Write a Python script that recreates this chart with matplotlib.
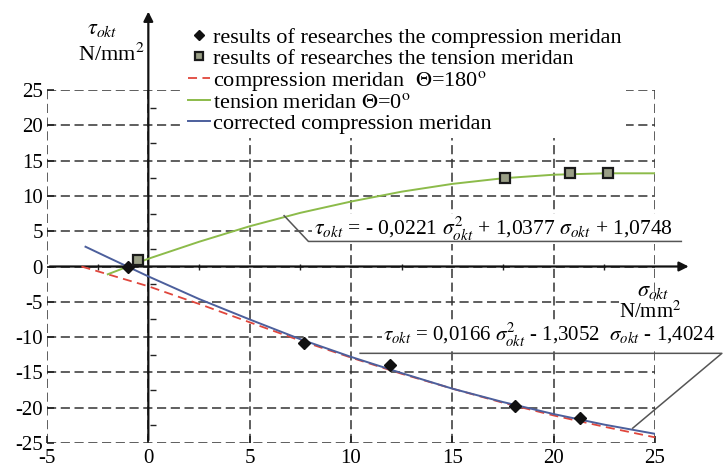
import matplotlib
matplotlib.use("Agg")
import matplotlib.pyplot as plt
import numpy as np

plt.rcParams['font.family'] = ['Liberation Serif', 'DejaVu Serif']
plt.rcParams['mathtext.fontset'] = 'stix'

# measured points
comp_x = [-1.0, 7.7, 11.9, 18.1, 21.3]
comp_y = [0.0, -10.8, -13.9, -19.8, -21.4]
tens_x = [-0.5, 17.6, 20.8, 22.7]
tens_y = [0.9, 12.6, 13.2, 13.3]

# curves
red_x = [-3.3, -2.0, 0.0, 2.5, 5.0, 7.5, 10.0, 12.5, 15.0, 17.5, 20.0, 22.5, 25.0]
red_y = [0.0, -1.1, -2.8, -5.3, -7.9, -10.5, -12.9, -15.2, -17.3, -19.3, -21.1, -22.7, -24.2]
green_x = [-2.0, 0.0, 2.5, 5.0, 7.5, 10.0, 12.5, 15.0, 17.5, 20.0, 22.5, 25.0]
green_y = [-1.1, 1.1, 3.5, 5.7, 7.6, 9.2, 10.6, 11.7, 12.5, 13.0, 13.2, 13.2]
blue_x = [-3.1, -2.0, 0.0, 2.5, 5.0, 7.5, 10.0, 12.5, 15.0, 17.5, 20.0, 22.5, 25.0]
blue_y = [2.8, 1.3, -1.4, -4.6, -7.5, -10.3, -12.8, -15.1, -17.3, -19.2, -20.9, -22.4, -23.7]

xticks = [-5, 0, 5, 10, 15, 20, 25]
yticks = [-25, -20, -15, -10, -5, 0, 5, 10, 15, 20, 25]

labels = ['results of researches the compression meridan',
          'results of researches the tension meridan',
          r'compression meridan  $\Theta$=180$^{\rm o}$',
          r'tension meridan $\Theta$=0$^{\rm o}$',
          'corrected compression meridan']

eq_tension = r'$\tau_{okt}$ = - 0,0221 $\sigma^2_{okt}$ + 1,0377 $\sigma_{okt}$ + 1,0748'
eq_comp = r'$\tau_{okt}$ = 0,0166 $\sigma^2_{okt}$ - 1,3052  $\sigma_{okt}$ - 1,4024'

red = '#e0463c'
green = '#8cbb4a'
blue = '#4c5f9c'
fs = 16

fig = plt.figure(figsize=(7.27, 4.68), dpi=100)
ax = fig.add_axes([47 / 727, 1 - 443 / 468, 608 / 727, 353 / 468])
ax.set_xlim(-5, 25)
ax.set_ylim(-25, 25)
for s in ax.spines.values():
    s.set_visible(False)
ax.set_xticks(xticks)
ax.set_yticks(yticks)
ax.set_xticklabels([str(v) for v in xticks], fontsize=15)
ax.set_yticklabels([str(v) for v in yticks], fontsize=15)
ax.tick_params(direction='in', length=5, width=1.2, color='#222222')
ax.tick_params(axis='x', pad=4)
ax.tick_params(axis='y', pad=3)
ax.grid(True, color='#333333', lw=1.1, ls=(0, (6, 3)))
ax.set_axisbelow(True)

# main axes with arrows
ax.annotate('', xy=(0, 36.5), xytext=(0, -25), annotation_clip=False,
            arrowprops=dict(arrowstyle='-|>', color='#111111', lw=1.6, mutation_scale=14))
ax.annotate('', xy=(26.8, 0), xytext=(-5, 0), annotation_clip=False,
            arrowprops=dict(arrowstyle='-|>', color='#111111', lw=1.6, mutation_scale=14))
minor = [-2.5, 2.5, 7.5, 12.5, 17.5, 22.5]
ax.plot(minor, [0] * len(minor), ls='none', marker='|', ms=4, color='#222222', clip_on=False)
ax.plot([0.25] * 10, [-22.5, -17.5, -12.5, -7.5, -2.5, 2.5, 7.5, 12.5, 17.5, 22.5],
        ls='none', marker='_', ms=4, color='#222222', clip_on=False)

l_red, = ax.plot(red_x, red_y, color=red, lw=1.3, ls=(0, (5, 3)), zorder=4)
l_green, = ax.plot(green_x, green_y, color=green, lw=1.4, zorder=4)
l_blue, = ax.plot(blue_x, blue_y, color=blue, lw=1.4, zorder=4)
p_comp, = ax.plot(comp_x, comp_y, ls='none', marker='D', ms=6, color='#111111', zorder=6)
p_tens, = ax.plot(tens_x, tens_y, ls='none', marker='s', ms=7, mfc='#9a9f86', mec='#1a1a1a',
                  mew=1.6, zorder=6)

leg = fig.legend([p_comp, p_tens, l_red, l_green, l_blue], labels,
                 loc='upper left', bbox_to_anchor=(172 / 727, 1 - 12 / 468),
                 fontsize=fs, frameon=True, fancybox=False, framealpha=1,
                 facecolor='white', edgecolor='none', handlelength=1.0,
                 handletextpad=0.15, labelspacing=0.0, borderpad=0.2, markerscale=0.8)

# axis titles
ax.text(-2.3, 33.6, r'$\tau_{okt}$', fontsize=fs, ha='center', va='center')
ax.text(-0.2, 30.0, r'N/mm$^2$', fontsize=fs, ha='right', va='center')
ax.text(26.3, -6.4, r'N/mm$^2$', fontsize=15, ha='right', va='center',
        bbox=dict(facecolor='white', edgecolor='none', pad=0))
ax.text(24.9, -3.6, r'$\sigma_{okt}$', fontsize=fs, ha='center', va='center', zorder=7)

# equation labels with leader lines
ax.text(8.15, 5.3, eq_tension, fontsize=15.5, ha='left', va='center', zorder=5,
        bbox=dict(facecolor='white', edgecolor='none', pad=1))
ax.plot([6.7, 7.9, 26.3], [7.2, 3.55, 3.55], color='#555555', lw=1.1, clip_on=False, zorder=5)
ax.text(11.6, -9.7, eq_comp, fontsize=15, ha='left', va='center', zorder=5,
        bbox=dict(facecolor='white', edgecolor='none', pad=1))
ax.plot([10.45, 28.3, 23.9], [-12.3, -12.3, -22.9], color='#555555', lw=1.1, clip_on=False, zorder=5)

fig.savefig('out.png', dpi=100)
